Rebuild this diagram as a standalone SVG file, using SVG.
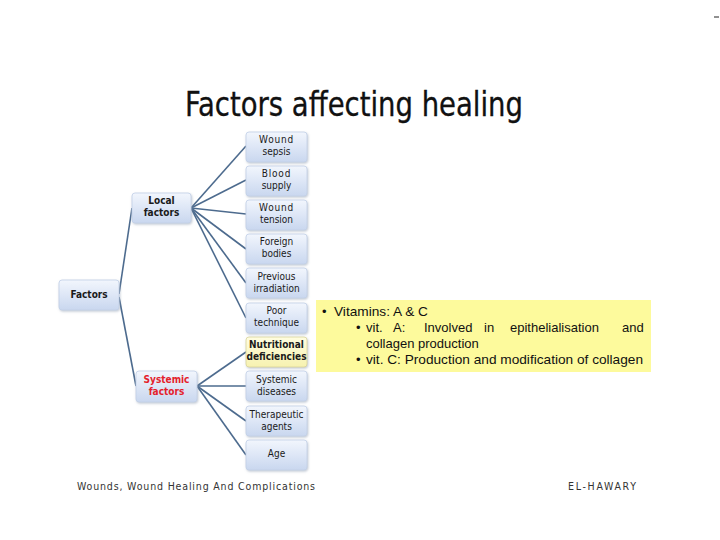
<svg xmlns="http://www.w3.org/2000/svg" width="720" height="540" viewBox="0 0 720 540">
<defs>
<linearGradient id="bg" x1="0" y1="0" x2="0" y2="1">
<stop offset="0" stop-color="#f2f6fd"/>
<stop offset="1" stop-color="#c9d7ef"/>
</linearGradient>
<linearGradient id="yg" x1="0" y1="0" x2="0" y2="1">
<stop offset="0" stop-color="#fffde0"/>
<stop offset="1" stop-color="#f7f2b0"/>
</linearGradient>
<filter id="sh" x="-10%" y="-10%" width="130%" height="140%">
<feDropShadow dx="0.8" dy="1.2" stdDeviation="0.8" flood-color="#8090a8" flood-opacity="0.5"/>
</filter>
</defs>
<style>
.box{fill:url(#bg);stroke:#c2cfe6;stroke-width:0.8;filter:url(#sh)}
.ybox{fill:url(#yg);stroke:#d8d39a;stroke-width:0.8;filter:url(#sh)}
.t{font-family:"DejaVu Sans Condensed","DejaVu Sans",sans-serif;font-size:10px;fill:#1a1a1a;text-anchor:middle}
.b{font-weight:bold}
.red{fill:#e4212b}
.con{stroke:#4d6b8e;stroke-width:1.6;fill:none}
.note{font-family:"Liberation Sans",Arial,sans-serif;font-size:13px;fill:#111}
.foot{font-family:"DejaVu Sans Condensed","DejaVu Sans",sans-serif;font-size:10.5px;fill:#333}
</style>
<rect width="720" height="540" fill="#ffffff"/>
<line x1="714" y1="17" x2="719" y2="17" stroke="#222" stroke-width="1"/>
<text x="185" y="116" font-family="DejaVu Sans Condensed,DejaVu Sans,sans-serif" font-size="33" fill="#111" stroke="#111" stroke-width="0.3" textLength="338" lengthAdjust="spacingAndGlyphs">Factors affecting healing</text>

<g id="connectors">
<line class="con" x1="119" y1="294" x2="132" y2="208"/>
<line class="con" x1="119" y1="297" x2="136" y2="386"/>
<line class="con" x1="191" y1="208" x2="246" y2="146"/>
<line class="con" x1="191" y1="208" x2="246" y2="180"/>
<line class="con" x1="191" y1="208" x2="246" y2="214"/>
<line class="con" x1="191" y1="208" x2="246" y2="249"/>
<line class="con" x1="191" y1="208" x2="246" y2="283"/>
<line class="con" x1="191" y1="208" x2="246" y2="318"/>
<line class="con" x1="197" y1="386" x2="246" y2="352"/>
<line class="con" x1="197" y1="386" x2="246" y2="386"/>
<line class="con" x1="197" y1="386" x2="246" y2="421"/>
<line class="con" x1="197" y1="386" x2="246" y2="455"/>
</g>

<g id="factors"><rect class="box" x="59" y="280" width="60" height="30" rx="3"/><text class="t b" x="89" y="298">Factors</text></g>
<g id="local"><rect class="box" x="132" y="193" width="59" height="30" rx="3"/><text class="t b" x="161.5" y="204">Local</text><text class="t b" x="161.5" y="216">factors</text></g>
<g id="systemic"><rect class="box" x="136" y="371" width="61" height="31" rx="3"/><text class="t b red" x="166.5" y="383">Systemic</text><text class="t b red" x="166.5" y="395">factors</text></g>

<g id="sepsis"><rect class="box" x="246" y="132" width="61" height="30" rx="3"/><text class="t" x="276.5" y="143" letter-spacing="0.8">Wound</text><text class="t" x="276.5" y="155">sepsis</text></g>
<g id="blood"><rect class="box" x="246" y="166" width="61" height="30" rx="3"/><text class="t" x="276.5" y="177" letter-spacing="0.8">Blood</text><text class="t" x="276.5" y="189">supply</text></g>
<g id="tension"><rect class="box" x="246" y="200" width="61" height="30" rx="3"/><text class="t" x="276.5" y="211" letter-spacing="0.8">Wound</text><text class="t" x="276.5" y="223">tension</text></g>
<g id="foreign"><rect class="box" x="246" y="234" width="61" height="30" rx="3"/><text class="t" x="276.5" y="245">Foreign</text><text class="t" x="276.5" y="257">bodies</text></g>
<g id="irradiation"><rect class="box" x="246" y="268" width="61" height="30" rx="3"/><text class="t" x="276.5" y="280">Previous</text><text class="t" x="276.5" y="292">irradiation</text></g>
<g id="technique"><rect class="box" x="246" y="303" width="61" height="30" rx="3"/><text class="t" x="276.5" y="314">Poor</text><text class="t" x="276.5" y="326">technique</text></g>
<g id="nutritional"><rect class="ybox" x="246" y="337" width="61" height="30" rx="3"/><text class="t b" x="276.5" y="348">Nutritional</text><text class="t b" x="276.5" y="360" font-size="9.6">deficiencies</text></g>
<g id="diseases"><rect class="box" x="246" y="371" width="61" height="30" rx="3"/><text class="t" x="276.5" y="383">Systemic</text><text class="t" x="276.5" y="395">diseases</text></g>
<g id="therapeutic"><rect class="box" x="246" y="406" width="61" height="30" rx="3"/><text class="t" x="276.5" y="418">Therapeutic</text><text class="t" x="276.5" y="430">agents</text></g>
<g id="age"><rect class="box" x="246" y="440" width="61" height="30" rx="3"/><text class="t" x="276.5" y="457">Age</text></g>

<g id="note">
<rect x="316" y="300" width="335" height="72" fill="#fdfa9c"/>
<text class="note" x="322" y="316">•</text>
<text class="note" x="334" y="316" textLength="94" lengthAdjust="spacingAndGlyphs">Vitamins: A &amp; C</text>
<text class="note" x="356" y="332">•</text>
<text class="note" y="332"><tspan x="366">vit.</tspan><tspan x="393">A:</tspan><tspan x="424">Involved</tspan><tspan x="484">in</tspan><tspan x="510">epithelialisation</tspan><tspan x="622">and</tspan></text>
<text class="note" x="366" y="348">collagen production</text>
<text class="note" x="356" y="364">•</text>
<text class="note" x="366" y="364" textLength="277" lengthAdjust="spacingAndGlyphs">vit. C: Production and modification of collagen</text>
</g>

<text class="foot" x="77" y="490" textLength="238" lengthAdjust="spacing">Wounds, Wound Healing And Complications</text>
<text class="foot" x="568" y="490" textLength="68" lengthAdjust="spacing">EL-HAWARY</text>
</svg>
